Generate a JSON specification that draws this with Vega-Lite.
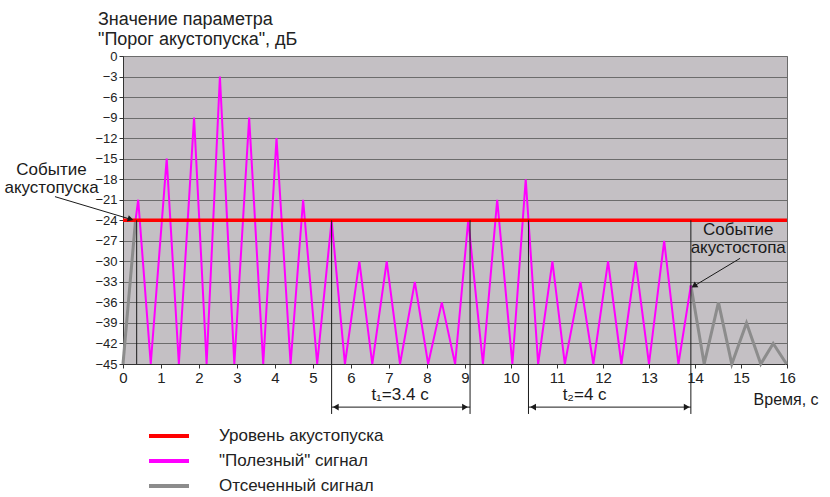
{
  "$schema": "https://vega.github.io/schema/vega-lite/v6.json",
  "width": 664,
  "height": 308,
  "autosize": {"type": "none"},
  "padding": {"left": 123, "top": 56, "right": 43, "bottom": 133},
  "background": "white",
  "config": {
    "font": "Liberation Sans",
    "view": {"fill": "#c4c0c4", "stroke": "#6a6a6a", "strokeWidth": 1},
    "axis": {"labelFont": "Liberation Sans", "labelColor": "#222", "domainColor": "#333", "tickColor": "#333", "title": null}
  },
  "title": {
    "text": ["Значение параметра", "\"Порог акустопуска\", дБ"],
    "anchor": "start", "frame": "group", "dx": -25, "offset": 1,
    "fontSize": 18, "fontWeight": "normal", "font": "Liberation Sans", "color": "#222", "lineHeight": 20
  },
  "datasets": {
    "signal": [
      {"t": 0.0, "v": -45, "s": "Отсеченный сигнал", "g": "g1"},
      {"t": 0.33, "v": -24, "s": "Отсеченный сигнал", "g": "g1"},
      {"t": 0.33, "v": -24, "s": "\"Полезный\" сигнал", "g": "m"},
      {"t": 0.40, "v": -21, "s": "\"Полезный\" сигнал", "g": "m"},
      {"t": 0.73, "v": -45, "s": "\"Полезный\" сигнал", "g": "m"},
      {"t": 1.15, "v": -15, "s": "\"Полезный\" сигнал", "g": "m"},
      {"t": 1.47, "v": -45, "s": "\"Полезный\" сигнал", "g": "m"},
      {"t": 1.87, "v": -9, "s": "\"Полезный\" сигнал", "g": "m"},
      {"t": 2.20, "v": -45, "s": "\"Полезный\" сигнал", "g": "m"},
      {"t": 2.55, "v": -3, "s": "\"Полезный\" сигнал", "g": "m"},
      {"t": 2.93, "v": -45, "s": "\"Полезный\" сигнал", "g": "m"},
      {"t": 3.32, "v": -9, "s": "\"Полезный\" сигнал", "g": "m"},
      {"t": 3.69, "v": -45, "s": "\"Полезный\" сигнал", "g": "m"},
      {"t": 4.04, "v": -12, "s": "\"Полезный\" сигнал", "g": "m"},
      {"t": 4.41, "v": -45, "s": "\"Полезный\" сигнал", "g": "m"},
      {"t": 4.74, "v": -21, "s": "\"Полезный\" сигнал", "g": "m"},
      {"t": 5.11, "v": -45, "s": "\"Полезный\" сигнал", "g": "m"},
      {"t": 5.49, "v": -24, "s": "\"Полезный\" сигнал", "g": "m"},
      {"t": 5.84, "v": -45, "s": "\"Полезный\" сигнал", "g": "m"},
      {"t": 6.22, "v": -30, "s": "\"Полезный\" сигнал", "g": "m"},
      {"t": 6.56, "v": -45, "s": "\"Полезный\" сигнал", "g": "m"},
      {"t": 6.94, "v": -30, "s": "\"Полезный\" сигнал", "g": "m"},
      {"t": 7.29, "v": -45, "s": "\"Полезный\" сигнал", "g": "m"},
      {"t": 7.68, "v": -33, "s": "\"Полезный\" сигнал", "g": "m"},
      {"t": 8.03, "v": -45, "s": "\"Полезный\" сигнал", "g": "m"},
      {"t": 8.39, "v": -36, "s": "\"Полезный\" сигнал", "g": "m"},
      {"t": 8.74, "v": -45, "s": "\"Полезный\" сигнал", "g": "m"},
      {"t": 9.07, "v": -24, "s": "\"Полезный\" сигнал", "g": "m"},
      {"t": 9.39, "v": -45, "s": "\"Полезный\" сигнал", "g": "m"},
      {"t": 9.70, "v": -21, "s": "\"Полезный\" сигнал", "g": "m"},
      {"t": 10.03, "v": -45, "s": "\"Полезный\" сигнал", "g": "m"},
      {"t": 10.32, "v": -18, "s": "\"Полезный\" сигнал", "g": "m"},
      {"t": 10.59, "v": -45, "s": "\"Полезный\" сигнал", "g": "m"},
      {"t": 10.90, "v": -30, "s": "\"Полезный\" сигнал", "g": "m"},
      {"t": 11.17, "v": -45, "s": "\"Полезный\" сигнал", "g": "m"},
      {"t": 11.51, "v": -33, "s": "\"Полезный\" сигнал", "g": "m"},
      {"t": 11.79, "v": -45, "s": "\"Полезный\" сигнал", "g": "m"},
      {"t": 12.11, "v": -30, "s": "\"Полезный\" сигнал", "g": "m"},
      {"t": 12.40, "v": -45, "s": "\"Полезный\" сигнал", "g": "m"},
      {"t": 12.71, "v": -30, "s": "\"Полезный\" сигнал", "g": "m"},
      {"t": 13.00, "v": -45, "s": "\"Полезный\" сигнал", "g": "m"},
      {"t": 13.33, "v": -27, "s": "\"Полезный\" сигнал", "g": "m"},
      {"t": 13.64, "v": -45, "s": "\"Полезный\" сигнал", "g": "m"},
      {"t": 13.91, "v": -33.5, "s": "\"Полезный\" сигнал", "g": "m"},
      {"t": 13.91, "v": -33.5, "s": "Отсеченный сигнал", "g": "g2"},
      {"t": 14.20, "v": -45, "s": "Отсеченный сигнал", "g": "g2"},
      {"t": 14.51, "v": -36, "s": "Отсеченный сигнал", "g": "g2"},
      {"t": 14.80, "v": -45, "s": "Отсеченный сигнал", "g": "g2"},
      {"t": 15.12, "v": -39, "s": "Отсеченный сигнал", "g": "g2"},
      {"t": 15.43, "v": -45, "s": "Отсеченный сигнал", "g": "g2"},
      {"t": 15.70, "v": -42, "s": "Отсеченный сигнал", "g": "g2"},
      {"t": 15.99, "v": -45, "s": "Отсеченный сигнал", "g": "g2"}
    ],
    "level": [
      {"t": 0, "v": -24, "s": "Уровень акустопуска"},
      {"t": 16, "v": -24, "s": "Уровень акустопуска"}
    ],
    "vlines": [
      {"t": 0.36, "v1": -24, "v2": -45},
      {"t": 5.49, "v1": -24, "v2": -52.3},
      {"t": 9.11, "v1": -24, "v2": -52.3},
      {"t": 10.38, "v1": -24, "v2": -52.3},
      {"t": 13.91, "v1": -24, "v2": -52.3}
    ],
    "spans": [
      {"a": 5.49, "b": 9.11, "v": -51.3, "al": 5.6, "bl": 9.0, "lt": 7.29, "label": "t₁=3.4 с"},
      {"a": 10.38, "b": 13.91, "v": -51.3, "al": 10.48, "bl": 13.82, "lt": 11.6, "label": "t₂=4 с"}
    ],
    "notes": [
      {"t": -1.88, "v": -16.65, "text": ["Событие", "акустопуска"], "k": "a"},
      {"t": 14.94, "v": -25.4, "text": ["Событие", "акустостопа"], "k": "a"},
      {"t": 15.98, "v": -50.3, "text": "Время, с", "k": "b"}
    ],
    "pointers": [
      {"t1": -1.79, "v1": -20.55, "t2": 0.2, "v2": -23.85, "id": "start"},
      {"t1": 14.98, "v1": -29.56, "t2": 13.98, "v2": -33.6, "id": "stop"}
    ]
  },
  "encoding": {
    "x": {"field": "t", "type": "quantitative",
      "scale": {"domain": [0, 9, 16], "range": [0, 342, 664], "zero": false, "nice": false},
      "axis": {"values": [0,1,2,3,4,5,6,7,8,9,10,11,12,13,14,15,16], "labelFontSize": 15, "tickSize": 4, "labelPadding": 2, "grid": false, "labelFlush": false}
    },
    "y": {"field": "v", "type": "quantitative",
      "scale": {"domain": [-45, 0], "zero": false, "nice": false},
      "axis": {"values": [-45,-42,-39,-36,-33,-30,-27,-24,-21,-18,-15,-12,-9,-6,-3,0], "labelFontSize": 13, "tickSize": 4, "labelPadding": 2, "grid": true, "gridColor": "#6c6c6c", "gridWidth": 1.2, "labelFlush": false}
    }
  },
  "layer": [
    {
      "data": {"name": "signal"},
      "transform": [{"filter": "datum.s === 'Отсеченный сигнал'"}],
      "mark": {"type": "line", "strokeWidth": 3},
      "encoding": {
        "detail": {"field": "g"},
        "color": {"field": "s", "type": "nominal",
          "scale": {"domain": ["Уровень акустопуска", "\"Полезный\" сигнал", "Отсеченный сигнал"], "range": ["#ff0000", "#ff00ff", "#8c8c8c"]},
          "legend": {"orient": "none", "legendX": 34, "legendY": 368, "title": null, "padding": 0,
            "symbolType": "M-2,0H2", "symbolSize": 400, "symbolStrokeWidth": 4,
            "labelFontSize": 17, "labelFont": "Liberation Sans", "labelColor": "#222", "labelOffset": 38, "rowPadding": 5, "labelLimit": 400}
        }
      }
    },
    {
      "data": {"name": "signal"},
      "transform": [{"filter": "datum.s !== 'Отсеченный сигнал'"}],
      "mark": {"type": "line", "strokeWidth": 2},
      "encoding": {
        "detail": {"field": "g"},
        "color": {"field": "s", "type": "nominal"}
      }
    },
    {
      "data": {"name": "level"},
      "mark": {"type": "line", "strokeWidth": 3.5},
      "encoding": {
        "color": {"field": "s", "type": "nominal"}
      }
    },
    {
      "data": {"name": "vlines"},
      "mark": {"type": "rule", "color": "#1a1a1a", "strokeWidth": 1},
      "encoding": {
        "y": {"field": "v1", "type": "quantitative"},
        "y2": {"field": "v2"}
      }
    },
    {
      "data": {"name": "spans"},
      "mark": {"type": "rule", "color": "#1a1a1a", "strokeWidth": 1},
      "encoding": {
        "x": {"field": "a", "type": "quantitative"},
        "x2": {"field": "b"},
        "y": {"field": "v", "type": "quantitative"}
      }
    },
    {
      "data": {"name": "spans"},
      "mark": {"type": "point", "shape": "triangle-left", "filled": true, "color": "#1a1a1a", "size": 45, "opacity": 1},
      "encoding": {
        "x": {"field": "al", "type": "quantitative"},
        "y": {"field": "v", "type": "quantitative"}
      }
    },
    {
      "data": {"name": "spans"},
      "mark": {"type": "point", "shape": "triangle-right", "filled": true, "color": "#1a1a1a", "size": 45, "opacity": 1},
      "encoding": {
        "x": {"field": "bl", "type": "quantitative"},
        "y": {"field": "v", "type": "quantitative"}
      }
    },
    {
      "data": {"name": "spans"},
      "mark": {"type": "text", "fontSize": 17, "color": "#1a1a1a", "baseline": "middle", "align": "center"},
      "encoding": {
        "x": {"field": "lt", "type": "quantitative"},
        "y": {"field": "v", "type": "quantitative"},
        "yOffset": {"value": -12},
        "text": {"field": "label"}
      }
    },
    {
      "data": {"name": "pointers"},
      "mark": {"type": "rule", "color": "#1a1a1a", "strokeWidth": 1},
      "encoding": {
        "x": {"field": "t1", "type": "quantitative"},
        "x2": {"field": "t2"},
        "y": {"field": "v1", "type": "quantitative"},
        "y2": {"field": "v2"}
      }
    },
    {
      "data": {"name": "pointers"},
      "transform": [{"filter": "datum.id === 'start'"}],
      "mark": {"type": "point", "shape": "triangle-right", "filled": true, "color": "#1a1a1a", "size": 45, "angle": 17, "opacity": 1},
      "encoding": {
        "x": {"field": "t2", "type": "quantitative"},
        "y": {"field": "v2", "type": "quantitative"}
      }
    },
    {
      "data": {"name": "pointers"},
      "transform": [{"filter": "datum.id === 'stop'"}],
      "mark": {"type": "point", "shape": "triangle-right", "filled": true, "color": "#1a1a1a", "size": 45, "angle": 147, "opacity": 1},
      "encoding": {
        "x": {"field": "t2", "type": "quantitative"},
        "y": {"field": "v2", "type": "quantitative"}
      }
    },
    {
      "data": {"name": "notes"},
      "transform": [{"filter": "datum.k === 'a'"}],
      "mark": {"type": "text", "fontSize": 17, "color": "#1a1a1a", "baseline": "middle", "align": "center", "lineHeight": 18},
      "encoding": {
        "x": {"field": "t", "type": "quantitative"},
        "y": {"field": "v", "type": "quantitative"},
        "text": {"field": "text"}
      }
    },
    {
      "data": {"name": "notes"},
      "transform": [{"filter": "datum.k === 'b'"}],
      "mark": {"type": "text", "fontSize": 16, "color": "#1a1a1a", "baseline": "middle", "align": "center"},
      "encoding": {
        "x": {"field": "t", "type": "quantitative"},
        "y": {"field": "v", "type": "quantitative"},
        "text": {"field": "text"}
      }
    }
  ]
}
